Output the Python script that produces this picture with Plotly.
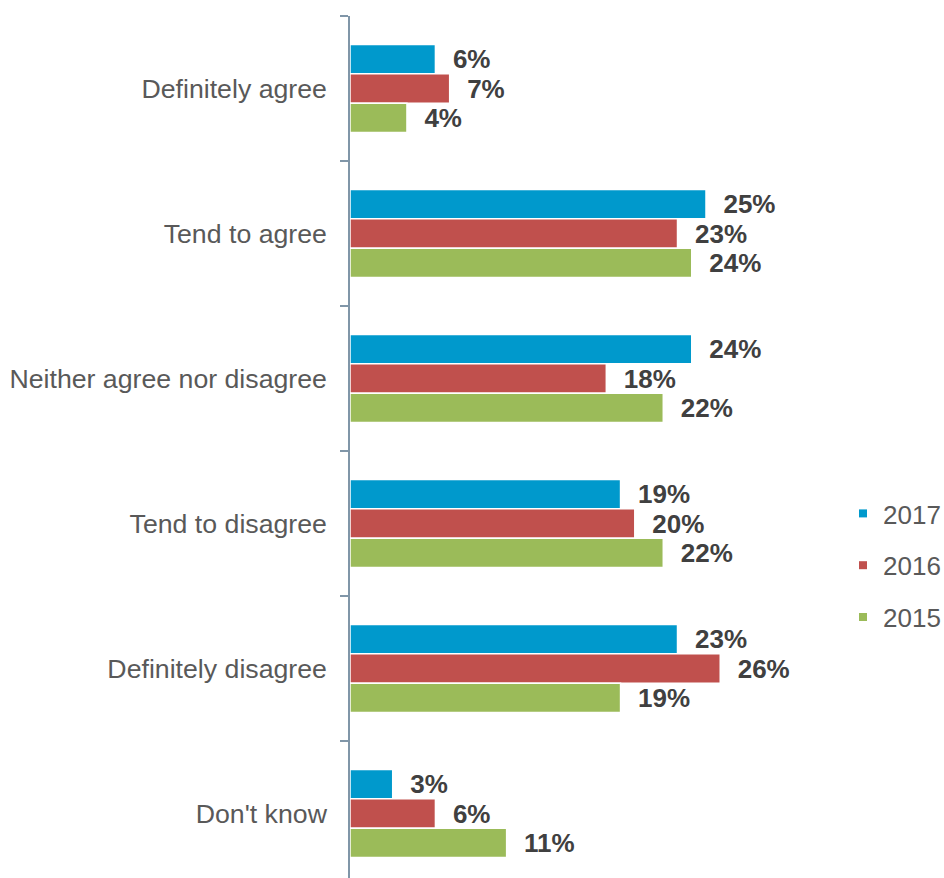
import plotly.graph_objects as go

# Survey responses, share of respondents by year
categories = [
    "Definitely agree",
    "Tend to agree",
    "Neither agree nor disagree",
    "Tend to disagree",
    "Definitely disagree",
    "Don't know",
]
years = ["2017", "2016", "2015"]
values_2017 = [6, 25, 24, 19, 23, 3]
values_2016 = [7, 23, 18, 20, 26, 6]
values_2015 = [4, 24, 22, 22, 19, 11]

series = [values_2017, values_2016, values_2015]
colors = ["#0099CC", "#C0504D", "#9BBB59"]

FONT = "Arial, Liberation Sans, Helvetica, sans-serif"
AXIS_COLOR = "#8096A8"

fig = go.Figure()

for year, vals, col in zip(years, series, colors):
    fig.add_trace(go.Bar(
        x=vals,
        y=categories,
        orientation="h",
        name=year,
        marker=dict(color=col, line=dict(color="white", width=1.5)),
        texttemplate="\u00a0\u00a0%{x}%",
        textposition="outside",
        cliponaxis=False,
        constraintext="none",
        textfont=dict(family=FONT, size=26, color="#404040", weight="bold"),
        showlegend=False,
        hoverinfo="skip",
    ))

# Legend entries with small square swatches
for i, (year, col) in enumerate(zip(years, colors)):
    fig.add_trace(go.Scatter(
        x=[None], y=[None],
        mode="markers",
        name=year,
        legendgroup=f"g{i}",
        marker=dict(symbol="square", size=8, color=col),
        showlegend=True,
    ))

W, H = 944, 878
L, T = 350, 16
plot_w = W - L
plot_h = H - T
px_per_pct = 14.24
band_px = 145.0

fig.update_layout(
    width=W,
    height=H,
    margin=dict(l=L, r=0, t=T, b=0, pad=0, autoexpand=False),
    paper_bgcolor="white",
    plot_bgcolor="white",
    barmode="group",
    bargap=0.393,
    bargroupgap=0,
    font=dict(family=FONT, size=26, color="#595959"),
    showlegend=True,
    legend=dict(
        x=(843 - L) / plot_w,
        xanchor="left",
        y=1 - (490 - T) / plot_h,
        yanchor="top",
        font=dict(family=FONT, size=26, color="#595959"),
        tracegroupgap=15,
        traceorder="grouped",
        bgcolor="rgba(0,0,0,0)",
        borderwidth=0,
    ),
    xaxis=dict(
        range=[0, plot_w / px_per_pct],
        showgrid=False,
        zeroline=False,
        showline=False,
        showticklabels=False,
        ticks="",
    ),
    yaxis=dict(
        type="category",
        categoryorder="array",
        categoryarray=categories,
        range=[-0.5 + plot_h / band_px, -0.5],
        showgrid=False,
        zeroline=False,
        showline=True,
        linecolor=AXIS_COLOR,
        linewidth=1.5,
        ticks="outside",
        tickson="boundaries",
        ticklen=8,
        tickwidth=1.5,
        tickcolor=AXIS_COLOR,
        ticklabelstandoff=16,
        tickfont=dict(family=FONT, size=26.7, color="#595959"),
    ),
)

fig.write_html("out.html")
